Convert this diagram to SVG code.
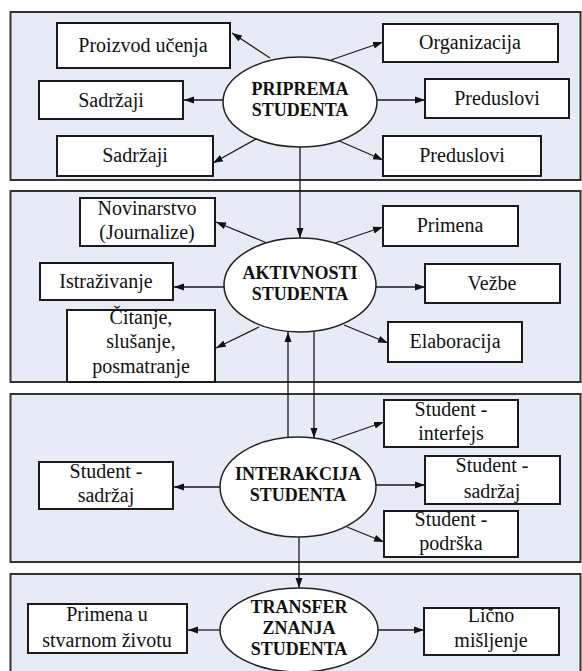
<svg xmlns="http://www.w3.org/2000/svg" width="582" height="671" viewBox="0 0 582 671">
<defs>
<marker id="ah" markerUnits="userSpaceOnUse" markerWidth="11" markerHeight="8" refX="10" refY="4" orient="auto">
<path d="M0,0.5 L10,4 L0,7.5 z" fill="#111"/>
</marker>
<style>
.panel{fill:#E7EBF5;stroke:#333;stroke-width:2}
.box{fill:#fff;stroke:#1a1a1a;stroke-width:2}
.ell{fill:#fff;stroke:#222;stroke-width:1.5}
.t{font-family:"Liberation Serif","Times New Roman",serif;font-size:20px;fill:#111;text-anchor:middle}
.b{font-family:"Liberation Serif","Times New Roman",serif;font-size:18px;font-weight:bold;fill:#111;text-anchor:middle}
.c{fill:none;stroke:#1a1a1a;stroke-width:1.3;marker-end:url(#ah)}
.p{fill:none;stroke:#1a1a1a;stroke-width:1.3}
</style>
</defs>
<rect width="582" height="671" fill="#fff"/>
<g id="panels">
<rect class="panel" x="10.5" y="12" width="570" height="168"/>
<rect class="panel" x="10.5" y="191" width="570" height="191"/>
<rect class="panel" x="10.5" y="394" width="570" height="168"/>
<rect class="panel" x="10.5" y="574" width="570" height="110"/>
</g>
<g id="connectors">
<line class="c" x1="270" y1="58" x2="232" y2="33"/>
<line class="c" x1="331" y1="60" x2="383" y2="42"/>
<line class="c" x1="223" y1="100" x2="184" y2="100"/>
<line class="c" x1="377" y1="100" x2="425" y2="100"/>
<line class="c" x1="258" y1="138" x2="213" y2="163"/>
<line class="c" x1="337" y1="140" x2="383" y2="160"/>
<line class="c" x1="300" y1="147" x2="300" y2="238"/>
<line class="c" x1="267" y1="243" x2="216" y2="222"/>
<line class="c" x1="335" y1="243" x2="383" y2="227"/>
<line class="c" x1="224" y1="287" x2="174" y2="287"/>
<line class="c" x1="376" y1="287" x2="425" y2="287"/>
<line class="c" x1="259" y1="327" x2="216" y2="348"/>
<line class="c" x1="344" y1="325" x2="388" y2="343"/>
<line class="c" x1="288" y1="437" x2="288" y2="332"/>
<line class="c" x1="314" y1="331" x2="314" y2="438"/>
<line class="c" x1="332" y1="440" x2="384" y2="422"/>
<line class="c" x1="376" y1="485" x2="425" y2="485"/>
<line class="c" x1="220" y1="487" x2="174" y2="487"/>
<line class="c" x1="347" y1="527" x2="384" y2="542"/>
<line class="c" x1="299" y1="537" x2="299" y2="588"/>
<line class="c" x1="220" y1="630" x2="188" y2="630"/>
<line class="c" x1="378" y1="630" x2="424" y2="630"/>
</g>
<g id="n-priprema"><ellipse class="ell" cx="300" cy="102" rx="77" ry="45"/><text class="b" x="300" y="95">PRIPREMA</text><text class="b" x="300" y="116">STUDENTA</text></g>
<g id="n-proizvod"><rect class="box" x="57" y="23" width="173" height="45"/><text class="t" x="143" y="52">Proizvod učenja</text></g>
<g id="n-sadrzaji1"><rect class="box" x="39" y="81" width="144" height="38"/><text class="t" x="111" y="107">Sadržaji</text></g>
<g id="n-sadrzaji2"><rect class="box" x="57" y="136" width="156" height="40"/><text class="t" x="135" y="162">Sadržaji</text></g>
<g id="n-organizacija"><rect class="box" x="383" y="24" width="175" height="38"/><text class="t" x="470" y="49">Organizacija</text></g>
<g id="n-preduslovi1"><rect class="box" x="425" y="79" width="144" height="39"/><text class="t" x="497" y="105">Preduslovi</text></g>
<g id="n-preduslovi2"><rect class="box" x="383" y="136" width="158" height="40"/><text class="t" x="462" y="162">Preduslovi</text></g>

<g id="n-aktivnosti"><ellipse class="ell" cx="300" cy="285" rx="76" ry="47"/><text class="b" x="300" y="279">AKTIVNOSTI</text><text class="b" x="300" y="300">STUDENTA</text></g>
<g id="n-novinarstvo"><rect class="box" x="80" y="198" width="135" height="48"/><text class="t" x="147" y="215">Novinarstvo</text><text class="t" x="147" y="239">(Journalize)</text></g>
<g id="n-istrazivanje"><rect class="box" x="40" y="263" width="133" height="37"/><text class="t" x="106" y="288">Istraživanje</text></g>
<g id="n-citanje"><rect class="box" x="67" y="310" width="148" height="72"/><text class="t" x="141" y="324">Čitanje,</text><text class="t" x="141" y="348">slušanje,</text><text class="t" x="141" y="373">posmatranje</text></g>
<g id="n-primena"><rect class="box" x="383" y="206" width="135" height="40"/><text class="t" x="450" y="232">Primena</text></g>
<g id="n-vezbe"><rect class="box" x="425" y="264" width="135" height="39"/><text class="t" x="492" y="290">Vežbe</text></g>
<g id="n-elaboracija"><rect class="box" x="388" y="322" width="134" height="40"/><text class="t" x="455" y="348">Elaboracija</text></g>

<g id="n-interakcija"><ellipse class="ell" cx="298" cy="487" rx="78" ry="50"/><text class="b" x="298" y="480">INTERAKCIJA</text><text class="b" x="298" y="501">STUDENTA</text></g>
<g id="n-sadrzaj-l"><rect class="box" x="39" y="462" width="134" height="47"/><text class="t" x="106" y="478">Student -</text><text class="t" x="106" y="502">sadržaj</text></g>
<g id="n-interfejs"><rect class="box" x="384" y="400" width="134" height="47"/><text class="t" x="451" y="416">Student -</text><text class="t" x="451" y="440">interfejs</text></g>
<g id="n-sadrzaj-r"><rect class="box" x="425" y="456" width="135" height="48"/><text class="t" x="492" y="472">Student -</text><text class="t" x="492" y="498">sadržaj</text></g>
<g id="n-podrska"><rect class="box" x="384" y="511" width="134" height="46"/><text class="t" x="451" y="526">Student -</text><text class="t" x="451" y="550">podrška</text></g>

<g id="n-transfer"><ellipse class="ell" cx="299" cy="630" rx="79" ry="42"/><text class="b" x="299" y="613">TRANSFER</text><text class="b" x="299" y="634">ZNANJA</text><text class="b" x="299" y="655">STUDENTA</text></g>
<g id="n-primena-u"><rect class="box" x="28" y="604" width="159" height="49"/><text class="t" x="107" y="621">Primena u</text><text class="t" x="107" y="647">stvarnom životu</text></g>
<g id="n-licno"><rect class="box" x="424" y="608" width="135" height="47"/><text class="t" x="491" y="622">Lično</text><text class="t" x="491" y="647">mišljenje</text></g>
</svg>
